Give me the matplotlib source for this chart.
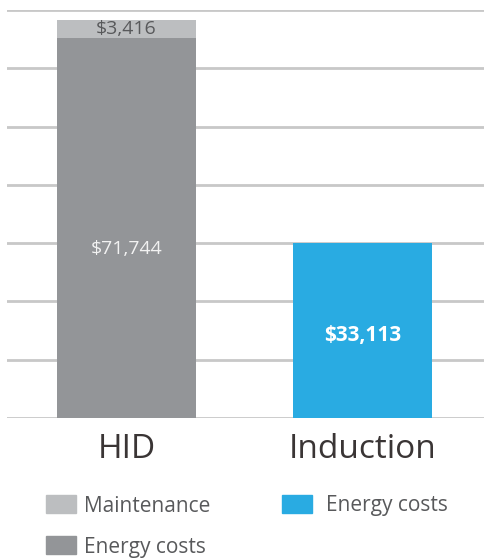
import matplotlib.pyplot as plt
from matplotlib.patches import Rectangle

plt.rcParams["font.family"] = ["Open Sans", "DejaVu Sans"]

categories = ["HID", "Induction"]
energy = [71744, 33113]
maintenance = [3416, 0]
energy_labels = ["$71,744", "$33,113"]
maint_labels = ["$3,416", ""]

c_maint = "#bcbec0"
c_hid = "#939598"
c_ind = "#29abe2"
text_gray = "#58595b"

fig = plt.figure(figsize=(4.84, 5.58), dpi=100)
# axes from x=7px to 484px, y from 10px (top) to 418px (bottom)
ax = fig.add_axes([7 / 484, 1 - 418 / 558, 477 / 484, 408 / 558])

x = [0, 1]
w = 0.589
ax.bar(x, energy, width=w, color=[c_hid, c_ind], zorder=2)
ax.bar(x, maintenance, bottom=energy, width=w, color=c_maint, zorder=2)

ax.set_xlim(-0.506, 1.515)
ax.set_ylim(0, 77000)
ax.set_yticks(range(0, 77001, 11000))
ax.yaxis.grid(True, color="#c8c8c8", linewidth=2)
ax.set_axisbelow(True)
ax.tick_params(left=False, bottom=False, labelleft=False, labelbottom=False)
for s in ax.spines.values():
    s.set_visible(False)

# value labels
ax.text(0, energy[0] + maintenance[0] / 2, maint_labels[0], ha="center", va="center",
        fontsize=14, color=text_gray)
ax.text(0, energy[0] * 0.445, energy_labels[0], ha="center", va="center",
        fontsize=14, color="#f2f2f2")
ax.text(1, energy[1] * 0.47, energy_labels[1], ha="center", va="center",
        fontsize=15, color="white", fontweight="bold")

# category labels
for xi, cat in zip(x, categories):
    ax.text(xi, -6000, cat, ha="center", va="center", fontsize=24, color="#3a3535")

# legend, drawn by hand
def legend_item(px, py, color, label, gap):
    fig.add_artist(Rectangle((px / 484, 1 - (py + 9) / 558), 30 / 484, 18 / 558,
                             transform=fig.transFigure, color=color))
    fig.text((px + 30 + gap) / 484, 1 - (py + 2) / 558, label, ha="left", va="center",
             fontsize=15, color=text_gray)

legend_item(46, 504, c_maint, "Maintenance", 8)
legend_item(46, 545, c_hid, "Energy costs", 8)
legend_item(282, 504, c_ind, "Energy costs", 14)

fig.savefig("out.png", dpi=100)
